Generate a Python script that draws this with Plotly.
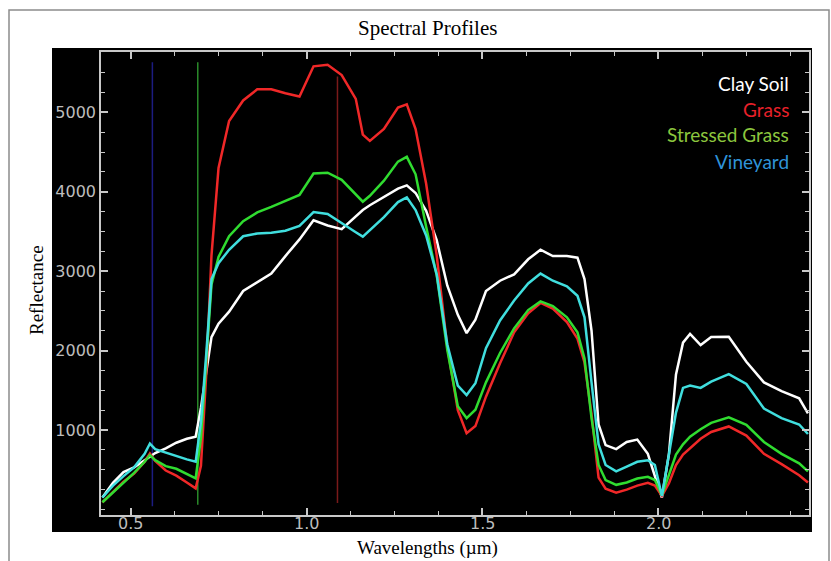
import plotly.graph_objects as go

# ---------------- data ----------------
wavelengths = [0.42, 0.45, 0.48, 0.51, 0.54, 0.555, 0.57, 0.60, 0.63, 0.66, 0.685,
               0.70, 0.715, 0.73, 0.75, 0.78, 0.82, 0.86, 0.90, 0.94, 0.98, 1.02,
               1.06, 1.10, 1.14, 1.16, 1.18, 1.22, 1.26, 1.285, 1.31, 1.34, 1.37,
               1.40, 1.43, 1.455, 1.48, 1.51, 1.55, 1.59, 1.63, 1.665, 1.70, 1.74,
               1.77, 1.79, 1.81, 1.83, 1.85, 1.88, 1.91, 1.94, 1.97, 1.99, 2.01,
               2.03, 2.05, 2.07, 2.09, 2.12, 2.15, 2.20, 2.25, 2.30, 2.35, 2.40, 2.425]

clay_soil = [150, 335, 470, 530, 620, 670, 710, 770, 840, 890, 915,
             1280, 1700, 2170, 2340, 2490, 2750, 2860, 2970, 3190, 3400, 3640,
             3575, 3530, 3690, 3770, 3830, 3935, 4040, 4080, 3985, 3760, 3390,
             2820, 2450, 2220, 2390, 2750, 2880, 2960, 3150, 3270, 3190, 3190,
             3170, 2900, 2250, 1070, 810, 760, 850, 880, 700, 420, 150,
             700, 1700, 2100, 2210, 2070, 2170, 2175, 1860, 1600, 1490, 1400, 1210]

grass = [90, 220, 350, 450, 600, 705, 610, 490, 425, 340, 265,
         550, 1700, 3200, 4300, 4890, 5150, 5290, 5290, 5240, 5200, 5580,
         5600, 5470, 5170, 4720, 4640, 4790, 5060, 5100, 4790, 4100, 3200,
         2050, 1250, 960, 1050, 1420, 1840, 2230, 2470, 2600, 2530, 2360,
         2150, 1850, 1200, 400, 260, 210, 250, 300, 335, 300, 170,
         330, 560, 690, 775, 890, 975, 1045, 930, 700, 570, 430, 340]

stressed_grass = [90, 215, 340, 460, 600, 685, 620, 545, 512, 445, 390,
                  900, 1900, 2830, 3180, 3440, 3630, 3740, 3810, 3880, 3960, 4230,
                  4240, 4150, 3960, 3875, 3950, 4140, 4380, 4440, 4220, 3560, 2950,
                  2010, 1300, 1150, 1255, 1600, 1970, 2280, 2510, 2620, 2560, 2420,
                  2230, 1900, 1150, 560, 370, 310, 340, 390, 410, 370, 180,
                  430, 690, 820, 915, 1010, 1090, 1160, 1065, 850, 700, 580, 480]

vineyard = [150, 300, 420, 530, 700, 830, 760, 715, 670, 630, 600,
            1100, 1950, 2900, 3100, 3270, 3440, 3475, 3485, 3510, 3570, 3745,
            3720, 3600, 3490, 3435, 3520, 3680, 3870, 3930, 3770, 3450, 2960,
            2080, 1560, 1440, 1590, 2030, 2380, 2630, 2845, 2970, 2880, 2810,
            2690, 2420, 1600, 820, 560, 480, 540, 600, 620, 560, 170,
            700, 1220, 1530, 1560, 1530, 1610, 1705, 1580, 1270, 1150, 1070, 950]

series_names = ["Clay Soil", "Grass", "Stressed Grass", "Vineyard"]
series_values = [clay_soil, grass, stressed_grass, vineyard]
line_colors = ["#ffffff", "#f02828", "#30dc30", "#40dede"]
legend_text_colors = ["#ffffff", "#e8202a", "#8cc63e", "#2f93d8"]

# band marker lines (wavelength, bottom, top)
band_positions = [0.562, 0.691, 1.088]
band_bottoms = [40, 60, 80]
band_tops = [5630, 5630, 5450]
band_colors = ["#1c1c80", "#2a8a2a", "#7a1a1a"]

x_tick_values = [0.5, 1.0, 1.5, 2.0]
x_tick_labels = ["0.5", "1.0", "1.5", "2.0"]
y_tick_values = [1000, 2000, 3000, 4000, 5000]
y_tick_labels = ["1000", "2000", "3000", "4000", "5000"]

# ---------------- figure ----------------
fig = go.Figure()

for w, lo, hi, c in zip(band_positions, band_bottoms, band_tops, band_colors):
    fig.add_trace(go.Scatter(x=[w, w], y=[lo, hi], mode="lines",
                             line=dict(color=c, width=1.5),
                             showlegend=False, hoverinfo="skip"))

for name, vals, col in zip(series_names, series_values, line_colors):
    fig.add_trace(go.Scatter(x=wavelengths, y=vals, mode="lines", name=name,
                             line=dict(color=col, width=2.5, shape="linear"),
                             showlegend=False))

W, H = 831, 561
L, R, T, B = 101, 22, 52, 46
pw = W - L - R
ph = H - T - B


def px(xp):
    return (xp - L) / pw


def py(yp):
    return (H - B - yp) / ph


axis_col = "#c8c8c8"
tick_font = dict(family="DejaVu Sans", size=16, color="#bdbdbd")

fig.update_layout(
    width=W, height=H,
    margin=dict(l=L, r=R, t=T, b=B),
    paper_bgcolor="#ffffff",
    plot_bgcolor="#000000",
    showlegend=False,
    xaxis=dict(range=[0.416, 2.428], showgrid=False, zeroline=False,
               showline=True, linecolor=axis_col, linewidth=1.5, mirror="ticks",
               ticks="inside", ticklen=7, tickwidth=1.5, tickcolor=axis_col,
               tickmode="array", tickvals=x_tick_values, ticktext=x_tick_labels,
               showticklabels=False,
               minor=dict(ticks="inside", dtick=0.125, tick0=0.5, ticklen=4,
                          tickwidth=1.2, tickcolor=axis_col)),
    yaxis=dict(range=[-70, 5760], showgrid=False, zeroline=False,
               showline=True, linecolor=axis_col, linewidth=1.5, mirror="ticks",
               ticks="inside", ticklen=7, tickwidth=1.5, tickcolor=axis_col,
               tickmode="array", tickvals=y_tick_values, ticktext=y_tick_labels,
               tickfont=tick_font,
               minor=dict(ticks="inside", dtick=250, tick0=0, ticklen=4,
                          tickwidth=1.2, tickcolor=axis_col)),
    shapes=[
        dict(type="rect", xref="paper", yref="paper", layer="below",
             x0=px(52), x1=px(812), y0=py(532), y1=py(48),
             fillcolor="#000000", line=dict(width=0)),
        dict(type="rect", xref="paper", yref="paper", layer="below",
             x0=px(9), x1=px(829), y0=py(580), y1=py(10),
             fillcolor="rgba(0,0,0,0)", line=dict(color="#8c8c8c", width=1.5)),
    ],
)

# x tick labels sit tight under the axis line, as in the reference
for v, t in zip(x_tick_values, x_tick_labels):
    fig.add_annotation(text=t, x=v, xref="x", y=py(523), yref="paper",
                       xanchor="center", yanchor="middle", showarrow=False,
                       font=tick_font)

serif = "Liberation Serif"
annotations = [
    dict(text="Spectral Profiles", x=px(427), y=py(28), font=dict(family=serif, size=21, color="#000000")),
    dict(text="Wavelengths (µm)", x=px(427), y=py(548), font=dict(family=serif, size=19, color="#000000")),
    dict(text="Reflectance", x=px(36), y=py(290), textangle=-90,
         font=dict(family=serif, size=19, color="#000000")),
]
for a in annotations:
    a.update(xref="paper", yref="paper", showarrow=False, xanchor="center", yanchor="middle")
    fig.add_annotation(**a)

legend_y = [84, 110, 135, 161]
for name, col, ly in zip(series_names, legend_text_colors, legend_y):
    fig.add_annotation(text=name, xref="paper", yref="paper", x=px(791), y=py(ly),
                       xanchor="right", yanchor="middle", showarrow=False,
                       font=dict(family="Lato", size=19, color=col))

fig.write_html(
    "out.html",
    config={"displayModeBar": False},
    post_script="document.body.style.margin='0';document.body.style.overflow='hidden';",
)
